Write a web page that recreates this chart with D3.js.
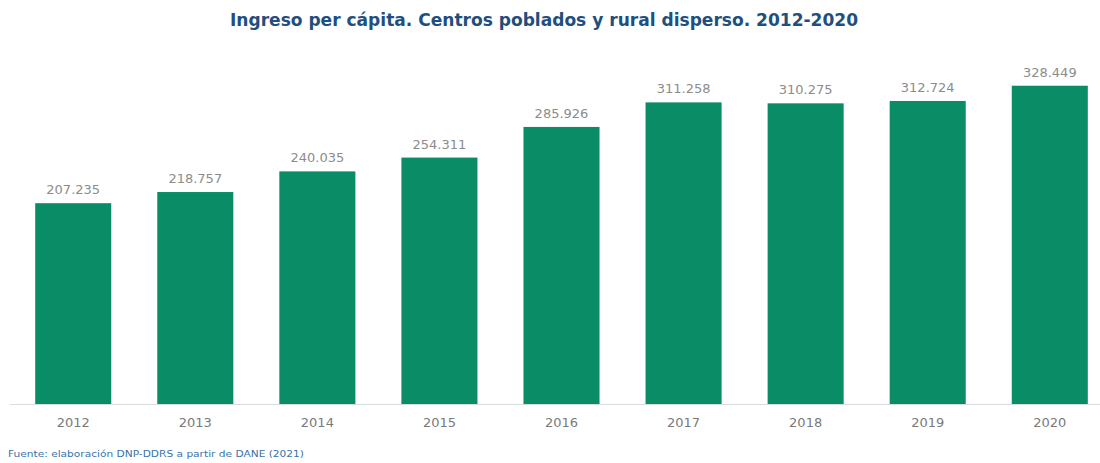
<!DOCTYPE html>
<html>
<head>
<meta charset="utf-8">
<script src="https://cdn.jsdelivr.net/npm/d3@7"></script>
<style>
	body { margin: 0; background: #fff; }
	text { font-family: "DejaVu Sans", "Noto Sans", sans-serif; }
</style>
</head>
<body>
<div id="chart"></div>
<script>
// data
let years = ["2012", "2013", "2014", "2015", "2016", "2017", "2018", "2019", "2020"];
let ingreso = [207235, 218757, 240035, 254311, 285926, 311258, 310275, 312724, 328449];
let etiquetas = ["207.235", "218.757", "240.035", "254.311", "285.926", "311.258", "310.275", "312.724", "328.449"];

let width = 1100, height = 463;
let baseline = 404;

let svg = d3.select("#chart")
	.append("svg")
	.attr("width", width)
	.attr("height", height);

//scales
let x_scale = d3.scaleBand()
	.domain(years)
	.range([12, 1111])
	.paddingInner(0.377)
	.paddingOuter(0.19);

let y_scale = d3.scaleLinear()
	.domain([0, 340000])
	.range([baseline, baseline - 340000 * 0.000969]);

let data = years.map((y, i) => ({year: y, value: ingreso[i], label: etiquetas[i]}));

//bars
svg.selectAll("rect.bar")
	.data(data)
	.enter()
	.append("rect")
	.attr("class", "bar")
	.attr("x", d => x_scale(d.year))
	.attr("y", d => y_scale(d.value))
	.attr("width", x_scale.bandwidth())
	.attr("height", d => baseline - y_scale(d.value))
	.attr("fill", "#0a8c66");

//value labels
svg.selectAll("text.val")
	.data(data)
	.enter()
	.append("text")
	.attr("class", "val")
	.attr("x", d => x_scale(d.year) + x_scale.bandwidth() / 2)
	.attr("y", d => y_scale(d.value) - 9)
	.attr("text-anchor", "middle")
	.attr("fill", "#8c8c8c")
	.style("font-size", "13px")
	.text(d => d.label);

//x axis
let x_axis = d3.axisBottom(x_scale).tickSize(0).tickPadding(14);
let gx = svg.append("g")
	.attr("transform", "translate(0," + baseline + ")")
	.call(x_axis);
gx.select(".domain").attr("stroke", "#d8dde0").attr("d", "M10,0.5H1100");
gx.selectAll("text")
	.attr("fill", "#7a7a7a")
	.style("font-size", "13px")
	.style("font-family", "'DejaVu Sans', sans-serif");

//title
svg.append("text")
	.attr("x", 544)
	.attr("y", 26)
	.attr("text-anchor", "middle")
	.attr("fill", "#1f4f7f")
	.attr("textLength", 628)
	.attr("lengthAdjust", "spacingAndGlyphs")
	.style("font-size", "17px")
	.style("font-weight", "bold")
	.text("Ingreso per cápita. Centros poblados y rural disperso. 2012-2020");

//source
svg.append("text")
	.attr("x", 8)
	.attr("y", 457)
	.attr("fill", "#3a73a8")
	.attr("textLength", 296)
	.attr("lengthAdjust", "spacingAndGlyphs")
	.style("font-size", "9.5px")
	.text("Fuente: elaboración DNP-DDRS a partir de DANE (2021)");
</script>
</body>
</html>
